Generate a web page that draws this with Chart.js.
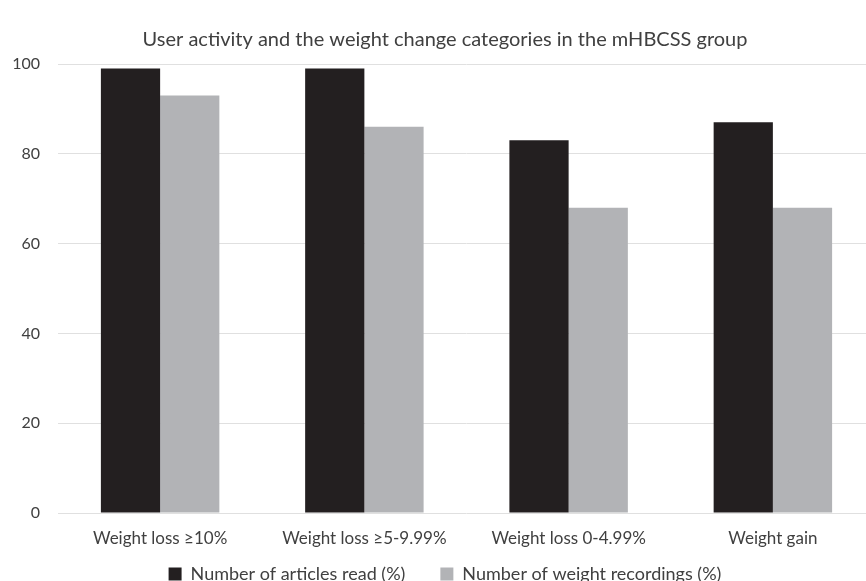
<!DOCTYPE html>
<html>
<head>
<meta charset="utf-8">
<script src="https://cdn.jsdelivr.net/npm/chart.js@4.4.0/dist/chart.umd.min.js"></script>
<style>
  body { margin: 0; overflow: hidden; background: #fff; }
  #wrap { width: 890px; height: 593px; }
</style>
</head>
<body>
<div id="wrap"><canvas id="chart1" width="890" height="593"></canvas></div>
<script>
var categories = ["Weight loss \u226510%", "Weight loss \u22655-9.99%", "Weight loss 0-4.99%", "Weight gain"];
var articlesRead = [99, 99, 83, 87];
var weightRecordings = [93, 86, 68, 68];
var seriesNames = ["Number of articles read (%)", "Number of weight recordings (%)"];
var yTicks = [0, 20, 40, 60, 80, 100];

var textColor = "#404040";
var font = "Lato, 'Open Sans', sans-serif";

var ctx = document.getElementById("chart1").getContext("2d");
new Chart(ctx, {
	type: "bar",
	data: {
		labels: categories,
		datasets: [{
			label: seriesNames[0],
			data: articlesRead,
			backgroundColor: "#231f20",
			categoryPercentage: 0.58,
			barPercentage: 1.0
		}, {
			label: seriesNames[1],
			data: weightRecordings,
			backgroundColor: "#b2b3b6",
			categoryPercentage: 0.58,
			barPercentage: 1.0
		}]
	},
	options: {
		responsive: false,
		animation: false,
		layout: { padding: 0 },
		plugins: {
			title: {
				display: true,
				text: "User activity and the weight change categories in the mHBCSS group",
				color: textColor,
				font: { family: font, size: 20, weight: "normal" },
				padding: { top: 28, bottom: 12 }
			},
			legend: {
				position: "bottom",
				labels: {
					color: textColor,
					font: { family: font, size: 18 },
					boxWidth: 13,
					boxHeight: 13,
					padding: 8,
					generateLabels: function (chart) {
						var items = Chart.defaults.plugins.legend.labels.generateLabels(chart);
						// wider gap between the two entries, as in the original
						items[0].text = items[0].text + "\u2003\u2003";
						return items;
					}
				}
			},
			tooltip: { enabled: false }
		},
		scales: {
			x: {
				afterFit: function (scale) { scale.height = 44; },
				grid: { display: false, drawTicks: false },
				border: { display: false },
				ticks: {
					color: textColor,
					font: { family: font, size: 17 },
					padding: 15,
					maxRotation: 0
				}
			},
			y: {
				min: 0,
				max: 100,
				afterFit: function (scale) { scale.width = 58; },
				afterBuildTicks: function (scale) {
					scale.ticks = yTicks.map(function (v) { return { value: v }; });
				},
				grid: { color: "#e0e0e0", lineWidth: 1, drawTicks: false },
				border: { display: false },
				ticks: {
					color: textColor,
					font: { family: font, size: 16 },
					padding: 18
				}
			},
			// empty right margin so the title and legend stay centred on the page
			yRight: {
				position: "right",
				min: 0,
				max: 100,
				afterFit: function (scale) { scale.width = 15; },
				grid: { display: false, drawTicks: false },
				border: { display: false },
				ticks: { display: false }
			}
		}
	}
});
</script>
</body>
</html>
